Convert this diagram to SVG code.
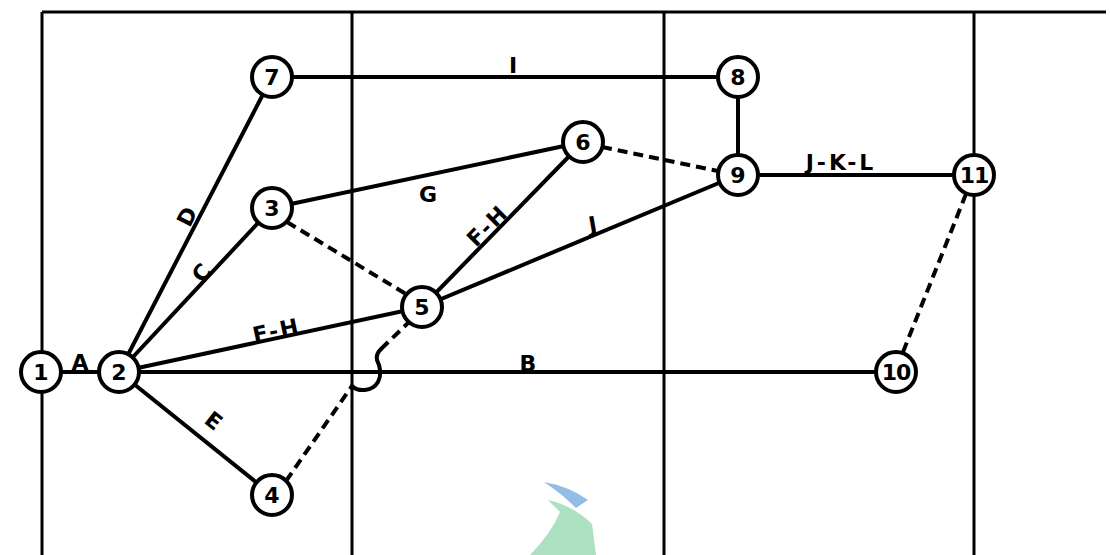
<svg xmlns="http://www.w3.org/2000/svg" width="1110" height="555" viewBox="0 0 1110 555">
<style>
.grid{stroke:#000;stroke-width:3;fill:none}
.e{stroke:#000;stroke-width:4;fill:none;stroke-linecap:round}
.d{stroke:#000;stroke-width:4;fill:none;stroke-dasharray:10 6}
.n circle{fill:#fff;stroke:#000;stroke-width:4}
.n text{font-family:"DejaVu Sans",sans-serif;font-weight:bold;font-size:22px;text-anchor:middle;fill:#000}
.lbl{font-family:"DejaVu Sans",sans-serif;font-weight:bold;font-size:22px;text-anchor:middle;fill:#000}
</style>
<rect width="1110" height="555" fill="#fff"/>
<g id="grid">
<line class="grid" x1="42" y1="12" x2="1106" y2="12"/>
<line class="grid" x1="42" y1="12" x2="42" y2="555"/>
<line class="grid" x1="352" y1="12" x2="352" y2="555"/>
<line class="grid" x1="664" y1="12" x2="664" y2="555"/>
<line class="grid" x1="974" y1="12" x2="974" y2="555"/>
</g>
<g id="logo" opacity="0.75">
<path d="M544,482 Q568,486 588,500 L576,508 Q562,494 544,482 Z" fill="#6fa8dc"/>
<path d="M548,500 Q574,506 592,524 L596,555 L530,555 Q552,532 560,512 Z" fill="#93d8ae"/>
</g>
<g id="connectors">
<line class="e" x1="41" y1="372" x2="119" y2="372"/>
<line class="e" x1="119" y1="372" x2="896" y2="372"/>
<line class="e" x1="119" y1="372" x2="272" y2="77"/>
<line class="e" x1="119" y1="372" x2="272" y2="208"/>
<line class="e" x1="119" y1="372" x2="422" y2="307"/>
<line class="e" x1="119" y1="372" x2="272" y2="495"/>
<line class="e" x1="272" y1="77" x2="738" y2="77"/>
<line class="e" x1="738" y1="77" x2="738" y2="175"/>
<line class="e" x1="272" y1="208" x2="583" y2="142"/>
<line class="e" x1="422" y1="307" x2="583" y2="142"/>
<line class="e" x1="422" y1="307" x2="738" y2="175"/>
<line class="e" x1="738" y1="175" x2="974" y2="175"/>
<line class="d" x1="287" y1="222" x2="406" y2="294"/>
<line class="d" x1="602" y1="147" x2="718" y2="171"/>
<line class="d" x1="966" y1="194" x2="903" y2="352"/>
<line class="d" x1="286" y1="481" x2="352" y2="386"/>
<path class="e" d="M352,386 C358,392 372,392 378,382 C382,374 380,366 377,360 C376,356 378,352 381,349"/>
<line class="d" x1="381" y1="349" x2="408" y2="323"/>
</g>
<g id="labels">
<text class="lbl" x="80" y="370">A</text>
<text class="lbl" x="528" y="371">B</text>
<text class="lbl" transform="translate(207,278) rotate(-47)">C</text>
<text class="lbl" transform="translate(194,220) rotate(-63)">D</text>
<text class="lbl" transform="translate(209,427) rotate(38)">E</text>
<text class="lbl" transform="translate(278,338) rotate(-12)" letter-spacing="2">F-H</text>
<text class="lbl" transform="translate(493,231) rotate(-45)" letter-spacing="2">F-H</text>
<text class="lbl" x="428" y="202">G</text>
<text class="lbl" x="513" y="73">I</text>
<text class="lbl" transform="translate(594,232) rotate(-10)">J</text>
<text class="lbl" x="841" y="170" letter-spacing="3">J-K-L</text>
</g>
<g id="n1" class="n"><circle cx="41" cy="372" r="20"/><text x="41" y="380">1</text></g>
<g id="n2" class="n"><circle cx="119" cy="372" r="20"/><text x="119" y="380">2</text></g>
<g id="n3" class="n"><circle cx="272" cy="208" r="20"/><text x="272" y="216">3</text></g>
<g id="n4" class="n"><circle cx="272" cy="495" r="20"/><text x="272" y="503">4</text></g>
<g id="n5" class="n"><circle cx="422" cy="307" r="20"/><text x="422" y="315">5</text></g>
<g id="n6" class="n"><circle cx="583" cy="142" r="20"/><text x="583" y="150">6</text></g>
<g id="n7" class="n"><circle cx="272" cy="77" r="20"/><text x="272" y="85">7</text></g>
<g id="n8" class="n"><circle cx="738" cy="77" r="20"/><text x="738" y="85">8</text></g>
<g id="n9" class="n"><circle cx="738" cy="175" r="20"/><text x="738" y="183">9</text></g>
<g id="n10" class="n"><circle cx="896" cy="372" r="20"/><text x="896" y="380" letter-spacing="-1">10</text></g>
<g id="n11" class="n"><circle cx="974" cy="175" r="20"/><text x="974" y="183" letter-spacing="-1">11</text></g>
</svg>
